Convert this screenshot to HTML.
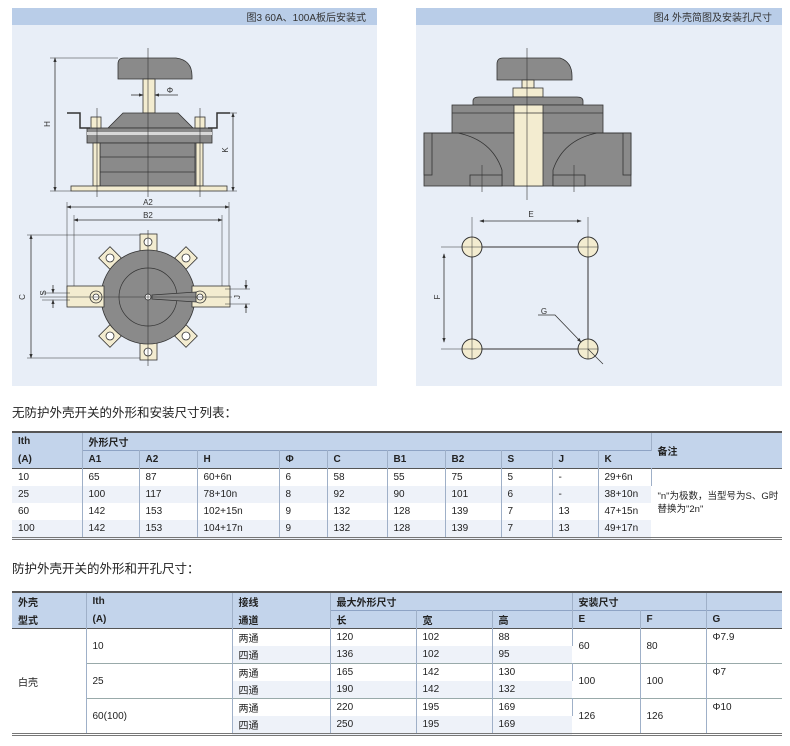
<!DOCTYPE html>
<html><head><meta charset="utf-8">
<style>
body{margin:0;width:790px;height:746px;background:#fff;position:relative;overflow:hidden;font-family:"Liberation Sans","Noto Sans CJK SC",sans-serif;color:#222}
.t{position:absolute;font-size:12.5px;left:12px}
table{position:absolute;border-collapse:collapse;font-size:10px;font-family:"Liberation Sans","Noto Sans CJK SC",sans-serif;border-top:2px solid #555;border-bottom:3px double #777}
td{padding:0 0 0 6px;height:17px;border-right:1px solid #9fb0c8;white-space:nowrap;vertical-align:middle;text-align:left}
td:last-child{border-right:none}
tr.h td{background:#c3d4eb;font-weight:bold}
tr.h2 td{border-top:1px solid #8ea3c4}
tr.a td{background:#eef2f9}
tr.b td{background:#fff}
td.w{background:#fff!important}
tr.sep td{border-top:1px solid #9aa}
</style></head><body>
<svg width="790" height="392" style="position:absolute;left:0;top:0" font-family="Liberation Sans, Noto Sans CJK SC, sans-serif">
<defs><marker id="ar" markerWidth="6" markerHeight="6" refX="5" refY="3" orient="auto"><path d="M0,1 L6,3 L0,5z" fill="#333"/></marker></defs>
<!-- left panel -->
<rect x="12" y="8" width="365" height="378" fill="#e8eef7"/>
<rect x="12" y="8" width="365" height="17" fill="#b9cde8"/>
<text x="366" y="21" font-size="10" text-anchor="end" fill="#333">图3 60A、100A板后安装式</text>
<rect x="416" y="8" width="366" height="378" fill="#e8eef7"/>
<rect x="416" y="8" width="366" height="17" fill="#b9cde8"/>
<text x="772" y="21" font-size="10" text-anchor="end" fill="#333">图4 外壳简图及安装孔尺寸</text>

<g stroke="#333" stroke-width="0.8">
<!-- left side view -->
<path d="M118,79 L118,64 Q118,58 124,58 L176,58 Q192,60 192,76 L192,79Z" fill="#8a8a8a"/>
<rect x="143" y="79" width="12" height="34" fill="#f3ecd0"/>
<path d="M108,128 L123,113 L178,113 L193,128Z" fill="#8a8a8a"/>
<rect x="87" y="128" width="125" height="15" fill="#8a8a8a"/>
<rect x="87" y="132" width="125" height="3" fill="#d8d8d8" stroke="none"/>
<rect x="100" y="143" width="95" height="43" fill="#8a8a8a"/>
<line x1="100" y1="157" x2="195" y2="157"/><line x1="100" y1="172" x2="195" y2="172"/>
<rect x="93" y="143" width="7" height="43" fill="#f3ecd0"/>
<rect x="196" y="143" width="7" height="43" fill="#f3ecd0"/>
<rect x="71" y="186" width="156" height="5" fill="#f3ecd0"/>
<path d="M67,113 L80,113 L80,128 L90,128" fill="none" stroke-width="1.5"/>
<path d="M230,113 L217,113 L217,128 L208,128" fill="none" stroke-width="1.5"/>
<rect x="91" y="117" width="10" height="11" fill="#f3ecd0"/>
<rect x="195" y="117" width="10" height="11" fill="#f3ecd0"/>
<line x1="148" y1="48" x2="148" y2="197" stroke-width="0.6"/>
<line x1="97" y1="108" x2="97" y2="197" stroke-width="0.6"/>
<line x1="200" y1="108" x2="200" y2="197" stroke-width="0.6"/>
<line x1="131" y1="95" x2="143" y2="95" marker-end="url(#ar)"/>
<line x1="178" y1="95" x2="155" y2="95" marker-end="url(#ar)"/>
<line x1="50" y1="58" x2="118" y2="58" stroke-width="0.5"/>
<line x1="50" y1="191" x2="71" y2="191" stroke-width="0.5"/>
<line x1="55" y1="63" x2="55" y2="58" marker-end="url(#ar)"/>
<line x1="55" y1="63" x2="55" y2="191" marker-end="url(#ar)"/>
<line x1="227" y1="113" x2="237" y2="113" stroke-width="0.5"/>
<line x1="227" y1="191" x2="237" y2="191" stroke-width="0.5"/>
<line x1="233" y1="118" x2="233" y2="113" marker-end="url(#ar)"/>
<line x1="233" y1="118" x2="233" y2="191" marker-end="url(#ar)"/>
<!-- A2 / B2 -->
<line x1="67" y1="202" x2="67" y2="305" stroke-width="0.5"/><line x1="74" y1="215" x2="74" y2="305" stroke-width="0.5"/>
<line x1="222" y1="215" x2="222" y2="305" stroke-width="0.5"/><line x1="229" y1="202" x2="229" y2="305" stroke-width="0.5"/>
<line x1="148" y1="207" x2="67" y2="207" marker-end="url(#ar)"/><line x1="148" y1="207" x2="229" y2="207" marker-end="url(#ar)"/>
<line x1="148" y1="220" x2="74" y2="220" marker-end="url(#ar)"/><line x1="148" y1="220" x2="222" y2="220" marker-end="url(#ar)"/>
<!-- plan -->
<line x1="27" y1="235" x2="150" y2="235" stroke-width="0.5"/><line x1="27" y1="358" x2="150" y2="358" stroke-width="0.5"/>
<line x1="31" y1="296" x2="31" y2="235" marker-end="url(#ar)"/><line x1="31" y1="296" x2="31" y2="358" marker-end="url(#ar)"/>
<g fill="#f3ecd0">
<rect x="140" y="234" width="17" height="17"/><rect x="140" y="343" width="17" height="17"/>
<rect x="102" y="250" width="16" height="16" transform="rotate(45 110 258)"/>
<rect x="178" y="250" width="16" height="16" transform="rotate(45 186 258)"/>
<rect x="102" y="328" width="16" height="16" transform="rotate(45 110 336)"/>
<rect x="178" y="328" width="16" height="16" transform="rotate(45 186 336)"/>
</g>
<circle cx="148" cy="297" r="47" fill="#8a8a8a"/>
<circle cx="148" cy="297" r="29" fill="none" stroke-width="0.7"/>
<g fill="#fff"><circle cx="148" cy="242" r="4"/><circle cx="148" cy="352" r="4"/><circle cx="110" cy="258" r="4"/><circle cx="186" cy="258" r="4"/><circle cx="110" cy="336" r="4"/><circle cx="186" cy="336" r="4"/></g>
<rect x="67" y="286" width="37" height="21" fill="#f3ecd0"/>
<rect x="192" y="286" width="38" height="21" fill="#f3ecd0"/>
<circle cx="96" cy="297" r="6" fill="#f3ecd0"/><circle cx="96" cy="297" r="3" fill="#fff"/>
<circle cx="200" cy="297" r="6" fill="#f3ecd0"/><circle cx="200" cy="297" r="3" fill="#fff"/>
<path d="M152,295 L196,292 L196,302 L152,299Z" fill="#8a8a8a"/>
<circle cx="148" cy="297" r="3" fill="#fff"/>
<line x1="148" y1="230" x2="148" y2="366" stroke-width="0.6"/>
<line x1="40" y1="297" x2="232" y2="297" stroke-width="0.6"/>
<line x1="42" y1="293" x2="70" y2="293" stroke-width="0.5"/><line x1="42" y1="300" x2="70" y2="300" stroke-width="0.5"/>
<line x1="53" y1="285" x2="53" y2="293" marker-end="url(#ar)"/><line x1="53" y1="308" x2="53" y2="300" marker-end="url(#ar)"/>
<line x1="225" y1="289" x2="250" y2="289" stroke-width="0.5"/><line x1="225" y1="304" x2="250" y2="304" stroke-width="0.5"/>
<line x1="246" y1="280" x2="246" y2="289" marker-end="url(#ar)"/><line x1="246" y1="313" x2="246" y2="304" marker-end="url(#ar)"/>

<!-- right side view -->
<path d="M497,80 L497,64 Q497,58 503,58 L560,58 Q572,62 572,76 L572,80Z" fill="#8a8a8a"/>
<rect x="522" y="80" width="12" height="8" fill="#f3ecd0"/>
<rect x="513" y="88" width="30" height="9" fill="#f3ecd0"/>
<path d="M473,105 L473,101 Q473,97 479,97 L577,97 Q583,97 583,101 L583,105Z" fill="#8a8a8a"/>
<rect x="452" y="105" width="151" height="28" fill="#8a8a8a"/>
<line x1="452" y1="113" x2="603" y2="113"/>
<rect x="424" y="133" width="207" height="53" fill="#8a8a8a"/>
<rect x="424" y="133" width="8" height="42" fill="#8a8a8a"/><rect x="623" y="133" width="8" height="42" fill="#8a8a8a"/>
<path d="M432,133 L458,133 Q492,140 502,170 L502,186" fill="none"/>
<path d="M623,133 L597,133 Q563,140 553,170 L553,186" fill="none"/>
<rect x="470" y="175" width="32" height="11" fill="#8a8a8a"/><rect x="553" y="175" width="32" height="11" fill="#8a8a8a"/>
<rect x="514" y="105" width="29" height="81" fill="#f3ecd0"/>
<line x1="514" y1="113" x2="543" y2="113"/>
<line x1="527" y1="48" x2="527" y2="200" stroke-width="0.6"/>
<line x1="482" y1="165" x2="482" y2="192" stroke-width="0.6"/><line x1="574" y1="165" x2="574" y2="192" stroke-width="0.6"/>
<!-- holes -->
<line x1="472" y1="217" x2="472" y2="260" stroke-width="0.5"/><line x1="588" y1="217" x2="588" y2="260" stroke-width="0.5"/>
<line x1="527" y1="221" x2="480" y2="221" marker-end="url(#ar)"/><line x1="527" y1="221" x2="581" y2="221" marker-end="url(#ar)"/>
<line x1="441" y1="247" x2="472" y2="247" stroke-width="0.5"/><line x1="441" y1="349" x2="472" y2="349" stroke-width="0.5"/>
<line x1="444" y1="297" x2="444" y2="254" marker-end="url(#ar)"/><line x1="444" y1="297" x2="444" y2="342" marker-end="url(#ar)"/>
<rect x="472" y="247" width="116" height="102" fill="none" stroke-width="1"/>
<g fill="#f3ecd0" stroke-width="1"><circle cx="472" cy="247" r="10"/><circle cx="588" cy="247" r="10"/><circle cx="472" cy="349" r="10"/><circle cx="588" cy="349" r="10"/></g>
<g stroke-width="0.5"><line x1="462" y1="247" x2="482" y2="247"/><line x1="472" y1="237" x2="472" y2="257"/><line x1="578" y1="247" x2="598" y2="247"/><line x1="588" y1="237" x2="588" y2="257"/><line x1="462" y1="349" x2="482" y2="349"/><line x1="472" y1="339" x2="472" y2="359"/><line x1="578" y1="349" x2="598" y2="349"/><line x1="588" y1="339" x2="588" y2="359"/></g>
<path d="M538,315 L555,315 L581,342" fill="none" marker-end="url(#ar)"/>
<line x1="588" y1="349" x2="603" y2="364" stroke-width="0.7"/>
</g>
<g font-size="8" fill="#333">
<text x="170" y="93" text-anchor="middle">Φ</text>
<text x="148" y="205" text-anchor="middle">A2</text>
<text x="148" y="218" text-anchor="middle">B2</text>
<text transform="translate(50,124) rotate(-90)" text-anchor="middle">H</text>
<text transform="translate(228,150) rotate(-90)" text-anchor="middle">K</text>
<text transform="translate(25,297) rotate(-90)" text-anchor="middle">C</text>
<text transform="translate(46,293) rotate(-90)" text-anchor="middle">S</text>
<text transform="translate(240,297) rotate(-90)" text-anchor="middle">J</text>
<text x="531" y="217" text-anchor="middle">E</text>
<text transform="translate(440,297) rotate(-90)" text-anchor="middle">F</text>
<text x="544" y="314" text-anchor="middle">G</text>
</g>
</svg>

<div class="t" style="top:402px">无防护外壳开关的外形和安装尺寸列表：</div>
<table style="left:12px;top:431px;width:770px">
<colgroup><col style="width:70px"><col style="width:57px"><col style="width:58px"><col style="width:82px"><col style="width:48px"><col style="width:60px"><col style="width:58px"><col style="width:56px"><col style="width:51px"><col style="width:46px"><col style="width:53px"><col style="width:131px"></colgroup>
<tr class="h"><td>Ith</td><td colspan="10">外形尺寸</td><td rowspan="2">备注</td></tr>
<tr class="h"><td>(A)</td><td style="border-top:1px solid #8ea3c4">A1</td><td style="border-top:1px solid #8ea3c4">A2</td><td style="border-top:1px solid #8ea3c4">H</td><td style="border-top:1px solid #8ea3c4">Φ</td><td style="border-top:1px solid #8ea3c4">C</td><td style="border-top:1px solid #8ea3c4">B1</td><td style="border-top:1px solid #8ea3c4">B2</td><td style="border-top:1px solid #8ea3c4">S</td><td style="border-top:1px solid #8ea3c4">J</td><td style="border-top:1px solid #8ea3c4">K</td></tr>
<tr class="b" style="border-top:1px solid #555"><td>10</td><td>65</td><td>87</td><td>60+6n</td><td>6</td><td>58</td><td>55</td><td>75</td><td>5</td><td>-</td><td>29+6n</td><td rowspan="4" class="w" style="font-size:9.5px;white-space:normal;line-height:13px">"n"为极数，当型号为S、G时替换为"2n"</td></tr>
<tr class="a"><td>25</td><td>100</td><td>117</td><td>78+10n</td><td>8</td><td>92</td><td>90</td><td>101</td><td>6</td><td>-</td><td>38+10n</td></tr>
<tr class="b"><td>60</td><td>142</td><td>153</td><td>102+15n</td><td>9</td><td>132</td><td>128</td><td>139</td><td>7</td><td>13</td><td>47+15n</td></tr>
<tr class="a"><td>100</td><td>142</td><td>153</td><td>104+17n</td><td>9</td><td>132</td><td>128</td><td>139</td><td>7</td><td>13</td><td>49+17n</td></tr>
</table>

<div class="t" style="top:558px">防护外壳开关的外形和开孔尺寸：</div>
<table style="left:12px;top:591px;width:770px">
<colgroup><col style="width:74px"><col style="width:146px"><col style="width:98px"><col style="width:86px"><col style="width:76px"><col style="width:80px"><col style="width:68px"><col style="width:66px"><col style="width:76px"></colgroup>
<tr class="h"><td>外壳</td><td>Ith</td><td>接线</td><td colspan="3">最大外形尺寸</td><td colspan="2">安装尺寸</td><td></td></tr>
<tr class="h"><td>型式</td><td>(A)</td><td>通道</td><td style="border-top:1px solid #8ea3c4">长</td><td style="border-top:1px solid #8ea3c4">宽</td><td style="border-top:1px solid #8ea3c4">高</td><td style="border-top:1px solid #8ea3c4">E</td><td style="border-top:1px solid #8ea3c4">F</td><td style="border-top:1px solid #8ea3c4">G</td></tr>
<tr class="b" style="border-top:1px solid #555"><td rowspan="6" class="w">白壳</td><td rowspan="2" class="w">10</td><td>两通</td><td>120</td><td>102</td><td>88</td><td rowspan="2" class="w">60</td><td rowspan="2" class="w">80</td><td rowspan="2" class="w" style="vertical-align:top;padding-top:3px">Φ7.9</td></tr>
<tr class="a"><td>四通</td><td>136</td><td>102</td><td>95</td></tr>
<tr class="b sep"><td rowspan="2" class="w" style="border-top:1px solid #9aa">25</td><td>两通</td><td>165</td><td>142</td><td>130</td><td rowspan="2" class="w" style="border-top:1px solid #9aa">100</td><td rowspan="2" class="w" style="border-top:1px solid #9aa">100</td><td rowspan="2" class="w" style="vertical-align:top;padding-top:3px;border-top:1px solid #9aa">Φ7</td></tr>
<tr class="a"><td>四通</td><td>190</td><td>142</td><td>132</td></tr>
<tr class="b sep"><td rowspan="2" class="w" style="border-top:1px solid #9aa">60(100)</td><td>两通</td><td>220</td><td>195</td><td>169</td><td rowspan="2" class="w" style="border-top:1px solid #9aa">126</td><td rowspan="2" class="w" style="border-top:1px solid #9aa">126</td><td rowspan="2" class="w" style="vertical-align:top;padding-top:3px;border-top:1px solid #9aa">Φ10</td></tr>
<tr class="a"><td>四通</td><td>250</td><td>195</td><td>169</td></tr>
</table>
</body></html>
